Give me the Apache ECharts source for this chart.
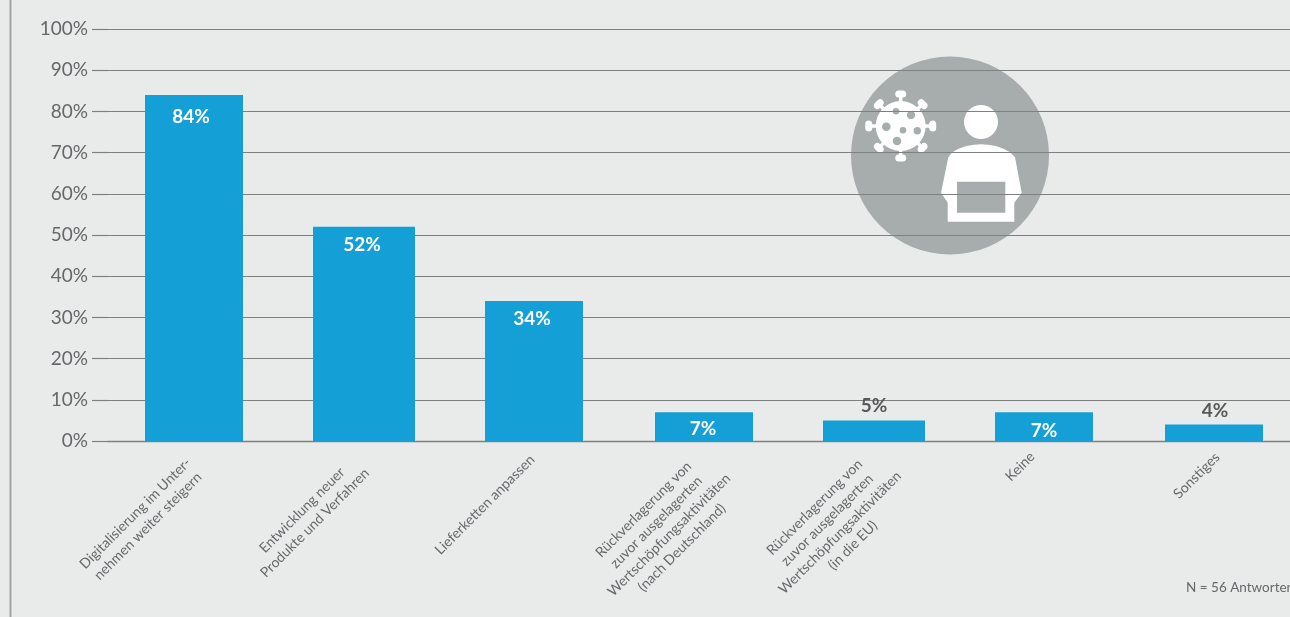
<!DOCTYPE html>
<html>
<head>
<meta charset="utf-8">
<style>html,body{margin:0;padding:0;background:#e9ebea}#chart{width:1290px;height:617px}</style>
<script src="https://cdn.jsdelivr.net/npm/echarts@6/dist/echarts.min.js"></script>
</head>
<body>
<div id="chart"></div>
<script>
// Survey answers: share of respondents per measure, in percent
const categories = [
  'Digitalisierung im Unter-\nnehmen weiter steigern',
  'Entwicklung neuer\nProdukte und Verfahren',
  'Lieferketten anpassen',
  'Rückverlagerung von\nzuvor ausgelagerten\nWertschöpfungsaktivitäten\n(nach Deutschland)',
  'Rückverlagerung von\nzuvor ausgelagerten\nWertschöpfungsaktivitäten\n(in die EU)',
  'Keine',
  'Sonstiges'
];
const values = [84, 52, 34, 7, 5, 7, 4];
const wideBarIndexes = [1, 4];
const tickStep = 10;
const footnote = 'N = 56 Antworten';

// Per-bar spacing of the value labels and of the slanted category labels
const labelDistances = [12, 9, 8, 7, 5, 9, 4];
const labelShifts = [-3, -2, -2, -1, 0, 0, 1];
const categoryPads = [[12.7, 28.3], [8.2, 29.7], [13.4, 23.3], [8.7, 18.4], [7.8, 16.2], [4.2, 28.3], [15.2, 18.1]];

const BLUE = '#149fd7', GRID = '#7f8181', TEXT = '#65676a', ICON = '#a7acad';
const FONT = 'Lato';

function barLabel(v, i) {
  const inside = v >= 6;
  return {
    show: true, position: inside ? 'insideTop' : 'top', distance: labelDistances[i],
    offset: [labelShifts[i], 0],
    color: inside ? '#fff' : '#58595b',
    fontFamily: FONT, fontWeight: 700, fontSize: 19,
    formatter: '{c}%'
  };
}

// Wide and narrow bars share a band; the gap keeps their centres aligned
function barSeries(width, keep) {
  return {
    type: 'bar', barWidth: width, barGap: '-98.04%', itemStyle: { color: BLUE },
    data: values.map((v, i) => keep(i) ? { value: v, label: barLabel(v, i) } : null)
  };
}

// Decorative pictogram: virus beside a person carrying a laptop
const spikes = [];
for (let k = 0; k < 8; k++) {
  const a = k * Math.PI / 4;
  const r = k % 2 ? 31 : 32;
  spikes.push({
    type: 'line', shape: { x1: 900.7, y1: 126, x2: 900.7 + r * Math.cos(a), y2: 126 + r * Math.sin(a) },
    style: { stroke: '#fff', lineWidth: 3.5 }
  });
  spikes.push({
    type: 'rect', x: 900.7 + r * Math.cos(a), y: 126 + r * Math.sin(a), rotation: -a,
    shape: { x: -3.5, y: -5.5, width: 7, height: 11, r: 3.5 },
    style: { fill: '#fff' }
  });
}
const holes = [[896, 111.3, 3.3], [911, 115, 4], [886.3, 126.7, 4.3], [903, 130.3, 3.3], [917.3, 130.7, 3.7], [897, 141, 4.3]]
  .map(h => ({ type: 'circle', shape: { cx: h[0], cy: h[1], r: h[2] }, style: { fill: ICON } }));
const torso = [
  [948.3, 157.3], [952, 152.5], [958, 149], [966, 146], [974, 144.7], [981, 144.3], [988, 144.7], [996, 146], [1004, 149], [1010.5, 152.5], [1015, 157.3],
  [1021.7, 192.7], [1014.3, 202.7], [1014.3, 221.7], [947.7, 221.7], [947.7, 202.7], [941, 192.7]
];

const chart = echarts.init(document.getElementById('chart'), null, { renderer: 'canvas' });
chart.setOption({
  backgroundColor: '#e9ebea',
  animation: false,
  grid: { left: 108, width: 1190, top: 29, height: 412, outerBoundsMode: 'none' },
  xAxis: {
    type: 'category',
    data: categories.map((c, i) => ({
      value: c,
      textStyle: { verticalAlign: 'top', padding: [categoryPads[i][0], categoryPads[i][1], 0, 0] }
    })),
    axisLine: { show: true, lineStyle: { color: GRID, width: 1.4 } },
    axisTick: { show: false },
    axisLabel: {
      interval: 0, rotate: 45, margin: -16,
      formatter: s => s.split('\n').map(l => '{c|' + l + '}').join('\n'),
      rich: { c: { align: 'center', fontFamily: FONT, fontSize: 14, lineHeight: 18, color: TEXT } }
    }
  },
  yAxis: {
    type: 'value', min: 0, max: 100, interval: tickStep,
    axisLine: { show: false },
    axisTick: { show: true, length: 16, lineStyle: { color: GRID, width: 1.2 } },
    axisLabel: { margin: 20, formatter: '{value}%', fontFamily: FONT, fontSize: 19, color: TEXT },
    splitLine: { show: true, lineStyle: { color: GRID, width: 1.2 } }
  },
  series: [
    barSeries(102, i => wideBarIndexes.includes(i)),
    barSeries(98, i => !wideBarIndexes.includes(i))
  ],
  graphic: [
    { type: 'line', silent: true, shape: { x1: 10.5, y1: 0, x2: 10.5, y2: 617 }, style: { stroke: '#a3a5a6', lineWidth: 2 } },
    { type: 'text', silent: true, style: { x: 1186, y: 581, text: footnote, fontFamily: FONT, fontSize: 13.5, fill: TEXT } },
    {
      type: 'group', silent: true, z: 100,
      children: [
        { type: 'circle', shape: { cx: 950, cy: 155.5, r: 99 }, style: { fill: ICON } },
        { type: 'circle', shape: { cx: 981, cy: 122, r: 17 }, style: { fill: '#fff' } },
        { type: 'polygon', shape: { points: torso }, style: { fill: '#fff' } },
        { type: 'rect', shape: { x: 957, y: 181.7, width: 48.3, height: 31 }, style: { fill: ICON } },
        ...spikes,
        { type: 'circle', shape: { cx: 900.7, cy: 126, r: 25 }, style: { fill: '#fff' } },
        ...holes
      ]
    }
  ]
});
</script>
</body>
</html>
